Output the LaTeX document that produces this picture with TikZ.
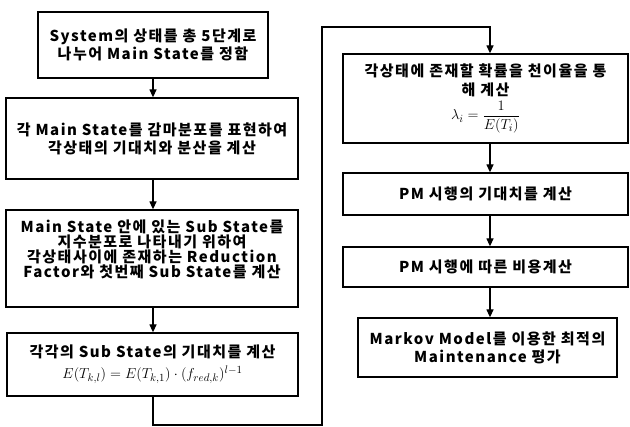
\documentclass[tikz,border=0pt]{standalone}
\usepackage{amsmath}
\usepackage{fontspec}
\setmainfont{Noto Sans CJK KR}[LetterSpace=10]
\usetikzlibrary{arrows.meta,calc}
\begin{document}
\begin{tikzpicture}[x=1pt,y=-1pt,
  box/.style={draw,line width=1.3pt,rectangle,inner sep=0pt,align=center,
    font=\fontsize{15}{18}\selectfont\bfseries},
  arr/.style={line width=1.3pt,-{Triangle[length=8pt,width=7pt]}},
  conn/.style={line width=1.3pt}]
\useasboundingbox (0,0) rectangle (630,427);
\node[box,minimum width=230pt,minimum height=66pt] (b1) at (153,45)
  {System의 상태를 총 5단계로\\나누어 Main State를 정함};
\node[box,minimum width=292pt,minimum height=81pt] (b2) at (152,138.5)
  {각 Main State를 감마분포를 표현하여\\각상태의 기대치와 분산을 계산};
\node[box,minimum width=292pt,minimum height=97pt,
  font=\fontsize{15}{15}\selectfont\bfseries] (b3) at (152,258.5)
  {Main State 안에 있는 Sub State를\\지수분포로 나타내기 위하여\\각상태사이에 존재하는 Reduction\\Factor와 첫번째 Sub State를 계산\\[5pt]\mbox{}};
\node[box,minimum width=291pt,minimum height=63pt,
  font=\fontsize{15}{21}\selectfont\bfseries] (b4) at (152.5,364.5)
  {각각의 Sub State의 기대치를 계산\\$E(T_{k,l})=E(T_{k,1})\cdot(f_{red,k})^{l-1}$};
\node[box,minimum width=285pt,minimum height=89pt,
  font=\fontsize{15}{19}\selectfont\bfseries] (b5) at (485.5,98.5)
  {각상태에 존재할 확률을 천이율을 통\\해 계산\\[3pt]$\lambda_i=\dfrac{1}{E(T_i)}$};
\node[box,minimum width=285pt,minimum height=42pt] (b6) at (485.5,194)
  {PM 시행의 기대치를 계산};
\node[box,minimum width=285pt,minimum height=40pt] (b7) at (485.5,267)
  {PM 시행에 따른 비용계산};
\node[box,minimum width=259pt,minimum height=59pt] (b8) at (487.5,347.5)
  {Markov Model를 이용한 최적의\\Maintenance 평가};
\coordinate (lx) at (153,0);
\coordinate (rx) at (490,0);
\coordinate (c1) at (153,425);
\coordinate (c2) at (322,425);
\coordinate (c3) at (322,27);
\coordinate (c4) at (490,27);
\draw[arr] (b1.south -| lx) -- (b2.north -| lx);
\draw[arr] (b2.south -| lx) -- (b3.north -| lx);
\draw[arr] (b3.south -| lx) -- (b4.north -| lx);
\draw[arr] (b4.south -| lx) -- (c1) -- (c2) -- (c3) -- (c4) -- (b5.north -| rx);
\draw[arr] (b5.south -| rx) -- (b6.north -| rx);
\draw[arr] (b6.south -| rx) -- (b7.north -| rx);
\draw[arr] (b7.south -| rx) -- (b8.north -| rx);
\end{tikzpicture}
\end{document}
